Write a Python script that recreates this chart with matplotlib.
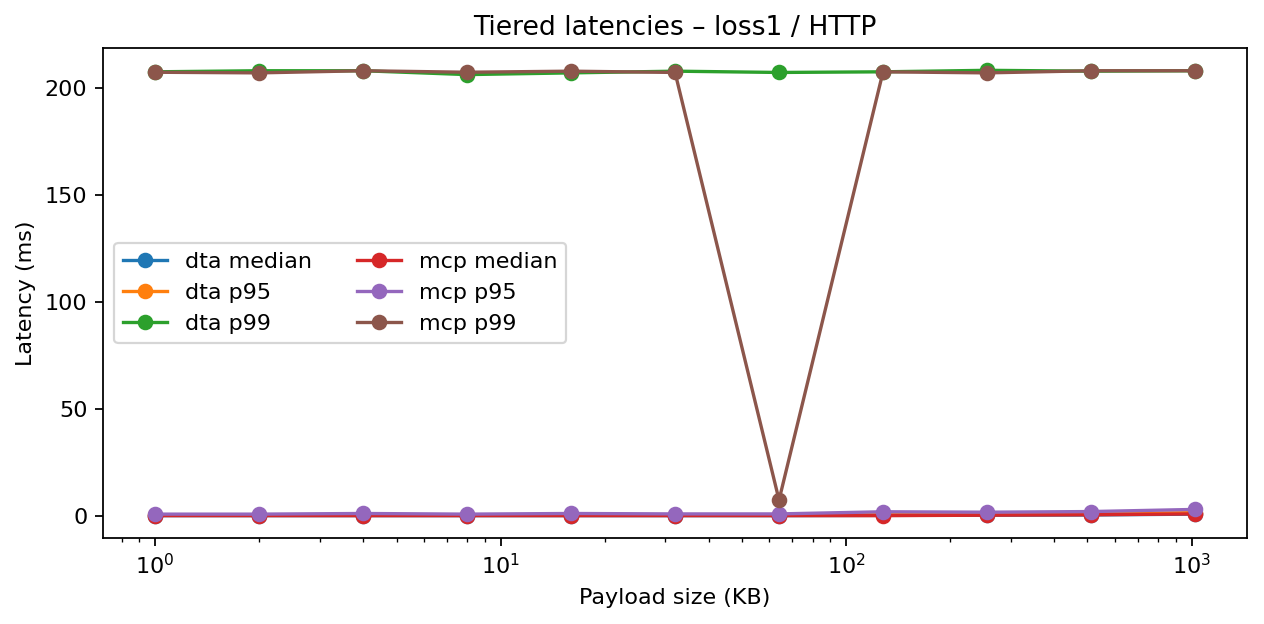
import numpy as np
import matplotlib
matplotlib.use('Agg')
import matplotlib.pyplot as plt

sizes_kb = [1, 2, 4, 8, 16, 32, 64, 128, 256, 512, 1024]

dta_median = [0.2, 0.2, 0.2, 0.2, 0.2, 0.2, 0.2, 0.3, 0.4, 0.5, 0.9]
dta_p95 = [0.5, 0.5, 0.6, 0.5, 0.6, 0.6, 0.6, 0.8, 0.9, 1.1, 1.6]
dta_p99 = [207.5, 208.0, 208.0, 206.2, 207.0, 207.8, 207.2, 207.5, 208.2, 207.8, 208.0]
mcp_median = [0.2, 0.2, 0.2, 0.2, 0.2, 0.2, 0.2, 0.2, 0.4, 0.6, 1.0]
mcp_p95 = [0.9, 0.9, 1.2, 0.9, 1.2, 1.0, 1.0, 2.0, 1.8, 2.1, 3.1]
mcp_p99 = [207.3, 207.0, 208.0, 207.3, 207.8, 207.2, 7.5, 207.5, 207.0, 208.0, 208.0]

series = [
    ('dta median', dta_median),
    ('dta p95', dta_p95),
    ('dta p99', dta_p99),
    ('mcp median', mcp_median),
    ('mcp p95', mcp_p95),
    ('mcp p99', mcp_p99),
]

fig, ax = plt.subplots(figsize=(7.9, 3.9), dpi=160)
for name, vals in series:
    ax.plot(sizes_kb, vals, marker='o', label=name)
ax.set_xscale('log')
ax.set_xlabel('Payload size (KB)')
ax.set_ylabel('Latency (ms)')
ax.set_title('Tiered latencies \u2013 loss1 / HTTP')
ax.legend(loc='center left', ncol=2)
plt.subplots_adjust(left=0.0815, right=0.9866, top=0.923, bottom=0.138)
plt.savefig('out.png')
